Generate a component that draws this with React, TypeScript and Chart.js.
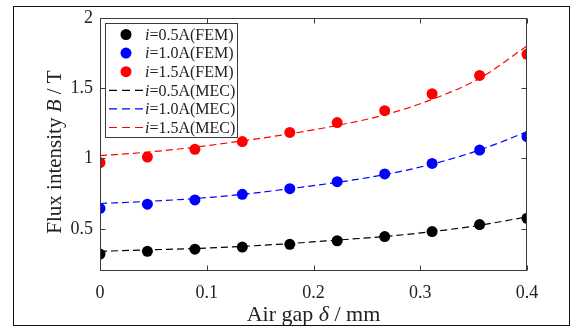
import { useEffect, useRef } from "react";
import { Chart, registerables } from "chart.js";

Chart.register(...registerables);

// Air gap positions (mm)
const gapMm = [0, 0.0444, 0.0889, 0.1333, 0.1778, 0.2222, 0.2667, 0.3111, 0.3556, 0.4];

// Coil currents (A)
const currents = ["0.5", "1.0", "1.5"];
const seriesColors = ["#000000", "#0000ff", "#ff0000"];

// Finite-element results (T)
const femHalf = [0.32, 0.34, 0.355, 0.37, 0.39, 0.415, 0.445, 0.48, 0.53, 0.575];
const femOne = [0.645, 0.675, 0.705, 0.745, 0.785, 0.835, 0.89, 0.965, 1.06, 1.155];
const femOneHalf = [0.97, 1.01, 1.065, 1.12, 1.185, 1.255, 1.34, 1.46, 1.59, 1.74];

// Magnetic equivalent circuit results (T)
const mecHalf = [0.34, 0.35, 0.36, 0.375, 0.395, 0.42, 0.445, 0.48, 0.525, 0.585];
const mecOne = [0.68, 0.695, 0.715, 0.745, 0.785, 0.83, 0.885, 0.96, 1.06, 1.19];
const mecOneHalf = [1.02, 1.045, 1.08, 1.125, 1.175, 1.235, 1.31, 1.42, 1.57, 1.8];

// Axis ticks
const xTickValues = [0, 0.1, 0.2, 0.3, 0.4];
const yTickValues = [0.5, 1, 1.5, 2];

const SERIF = '"Liberation Serif", "Times New Roman", serif';
const INK = "#222222";
const AXIS = "#3a3a3a";

const femSeries = [femHalf, femOne, femOneHalf];
const mecSeries = [mecHalf, mecOne, mecOneHalf];

const toPoints = (ys: number[]) => gapMm.map((x, i) => ({ x, y: ys[i] }));

type Part = [string, boolean];

function drawParts(
  ctx: CanvasRenderingContext2D,
  parts: Part[],
  size: number,
  x: number,
  y: number,
  align: "left" | "center"
) {
  const widths = parts.map(([t, it]) => {
    ctx.font = `${it ? "italic " : ""}${size}px ${SERIF}`;
    return ctx.measureText(t).width;
  });
  const total = widths.reduce((a, b) => a + b, 0);
  let cx = align === "center" ? x - total / 2 : x;
  ctx.textAlign = "left";
  parts.forEach(([t, it], i) => {
    ctx.font = `${it ? "italic " : ""}${size}px ${SERIF}`;
    ctx.fillText(t, cx, y);
    cx += widths[i];
  });
}

const decorations = {
  id: "decorations",
  afterDraw(chart: any) {
    const ctx: CanvasRenderingContext2D = chart.ctx;
    const { left, right, top, bottom } = chart.chartArea;
    const xs = chart.scales.x;
    const ys = chart.scales.y;
    const L = Math.round(left) + 0.5;
    const R = Math.round(right) - 0.5;
    const T = Math.round(top) + 0.5;
    const B = Math.round(bottom) - 0.5;

    ctx.save();
    // axes box
    ctx.strokeStyle = AXIS;
    ctx.lineWidth = 1;
    ctx.setLineDash([]);
    ctx.strokeRect(L, T, R - L, B - T);

    // inward tick marks on all four sides
    const tl = 5;
    ctx.beginPath();
    xTickValues.forEach((v) => {
      const px = Math.round(xs.getPixelForValue(v)) + 0.5;
      ctx.moveTo(px, B);
      ctx.lineTo(px, B - tl);
      ctx.moveTo(px, T);
      ctx.lineTo(px, T + tl);
    });
    yTickValues.forEach((v) => {
      const py = Math.round(ys.getPixelForValue(v)) + 0.5;
      ctx.moveTo(L, py);
      ctx.lineTo(L + tl, py);
      ctx.moveTo(R, py);
      ctx.lineTo(R - tl, py);
    });
    ctx.stroke();

    // legend
    const lx = L + 5;
    const ly = T + 5;
    const lw = 132;
    const lh = 114;
    ctx.fillStyle = "#ffffff";
    ctx.fillRect(lx, ly, lw, lh);
    ctx.strokeStyle = AXIS;
    ctx.strokeRect(lx, ly, lw, lh);
    const rowGap = 18.6;
    ctx.textBaseline = "middle";
    for (let k = 0; k < 6; k++) {
      const cy = ly + 11 + k * rowGap;
      const s = k % 3;
      const color = seriesColors[s];
      if (k < 3) {
        ctx.fillStyle = color;
        ctx.beginPath();
        ctx.arc(lx + 20.5, cy, 5.5, 0, Math.PI * 2);
        ctx.fill();
      } else {
        ctx.strokeStyle = color;
        ctx.lineWidth = 1.2;
        ctx.setLineDash([8, 5]);
        ctx.beginPath();
        ctx.moveTo(lx + 3.5, cy);
        ctx.lineTo(lx + 37.5, cy);
        ctx.stroke();
        ctx.setLineDash([]);
      }
      ctx.fillStyle = INK;
      const method = k < 3 ? "FEM" : "MEC";
      drawParts(ctx, [["i", true], [`=${currents[s]}A(${method})`, false]], 16, lx + 39.5, cy + 1, "left");
    }

    // axis titles
    ctx.fillStyle = INK;
    ctx.textBaseline = "alphabetic";
    drawParts(
      ctx,
      [["Air gap ", false], ["\u03b4", true], [" / mm", false]],
      22,
      (left + right) / 2,
      321,
      "center"
    );
    ctx.save();
    ctx.translate(61, 152);
    ctx.rotate(-Math.PI / 2);
    drawParts(
      ctx,
      [["Flux intensity ", false], ["B", true], [" / T", false]],
      21,
      0,
      0,
      "center"
    );
    ctx.restore();

    // outer frame
    ctx.strokeStyle = "#111111";
    ctx.lineWidth = 1;
    ctx.strokeRect(13.5, 6.5, 556, 319);
    ctx.restore();
  },
};

export default function App() {
  const canvasRef = useRef<HTMLCanvasElement | null>(null);

  useEffect(() => {
    const canvas = canvasRef.current;
    if (!canvas) return;

    const femSets = femSeries.map((ys, i) => ({
      label: `i=${currents[i]}A(FEM)`,
      data: toPoints(ys),
      showLine: false,
      pointRadius: 5.5,
      pointBorderWidth: 0,
      pointBackgroundColor: seriesColors[i],
      backgroundColor: seriesColors[i],
      borderColor: seriesColors[i],
    }));
    const mecSets = mecSeries.map((ys, i) => ({
      label: `i=${currents[i]}A(MEC)`,
      data: toPoints(ys),
      showLine: true,
      pointRadius: 0,
      borderWidth: 1.2,
      borderDash: [7, 4],
      borderColor: seriesColors[i],
      backgroundColor: seriesColors[i],
      cubicInterpolationMode: "monotone" as const,
      fill: false,
    }));

    const chart = new Chart(canvas, {
      type: "scatter",
      data: { datasets: [...femSets, ...mecSets] as any },
      options: {
        responsive: false,
        animation: false,
        events: [],
        layout: { padding: { top: 17, right: 45, bottom: 0, left: 0 } },
        plugins: { legend: { display: false }, tooltip: { enabled: false } },
        scales: {
          x: {
            type: "linear",
            min: 0,
            max: 0.4,
            grid: { display: false, drawTicks: false },
            border: { display: false },
            afterBuildTicks: (scale: any) => {
              scale.ticks = xTickValues.map((value) => ({ value }));
            },
            afterFit: (scale: any) => {
              scale.height = 59;
            },
            ticks: {
              padding: 11,
              color: INK,
              font: { family: SERIF, size: 18 },
              maxRotation: 0,
              callback: (v: any) => String(Number(v)),
            },
          },
          y: {
            type: "linear",
            min: 0.2,
            max: 2,
            grid: { display: false, drawTicks: false },
            border: { display: false },
            afterBuildTicks: (scale: any) => {
              scale.ticks = yTickValues.map((value) => ({ value }));
            },
            afterFit: (scale: any) => {
              scale.width = 100;
            },
            ticks: {
              padding: 7,
              color: INK,
              font: { family: SERIF, size: 18 },
              callback: (v: any) => String(Number(v)),
            },
          },
        },
      },
      plugins: [decorations],
    });

    return () => chart.destroy();
  }, []);

  return (
    <div style={{ position: "fixed", left: 0, top: 0, width: 572, height: 330, background: "#ffffff" }}>
      <canvas ref={canvasRef} width={572} height={330} style={{ display: "block" }} />
    </div>
  );
}
